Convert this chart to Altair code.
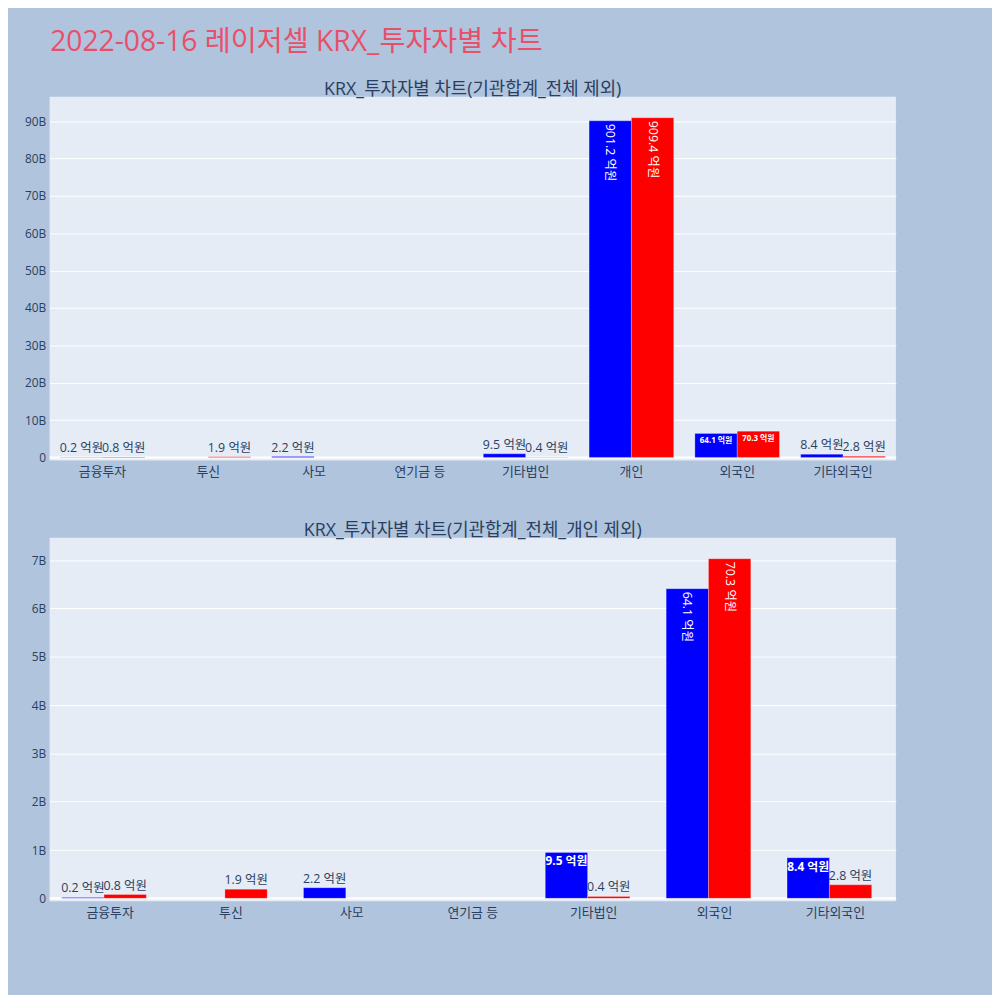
import numpy as np
import pandas as pd
import altair as alt

# 투자자별 거래대금 (억원)
categories = ["금융투자", "투신", "사모", "연기금 등", "기타법인", "개인", "외국인", "기타외국인"]
blue_vals = [0.2, 0.0, 2.2, 0.0, 9.5, 901.2, 64.1, 8.4]   # 매도
red_vals = [0.8, 1.9, 0.0, 0.0, 0.4, 909.4, 70.3, 2.8]    # 매수
series = ["매도", "매수"]

FONT = "Open Sans, Noto Sans CJK KR, sans-serif"
TXT = "#2a3f5f"
PLOT_BG = "#e5ecf6"


def make_df(cats):
    rows = []
    for c in cats:
        i = categories.index(c)
        for s, v in zip(series, [blue_vals[i], red_vals[i]]):
            rows.append({"투자자": c, "구분": s, "억원": v, "금액": v * 1e8,
                         "라벨": f"{v:.1f} 억원" if v > 0 else ""})
    df = pd.DataFrame(rows)
    top = df["억원"].max()
    ratio = df["억원"] / top
    df["mode"] = np.where(ratio > 0.5, "rot", np.where(ratio > 0.05, "in", "out"))
    return df


def panel(cats, title, step, in_size):
    df = make_df(cats)
    vmax = df["금액"].max()
    lo, hi = -vmax * 0.0088, vmax * 1.062
    ticks = list(np.arange(0, hi, step))
    yscale = alt.Scale(domain=[lo, hi], nice=False, zero=False)
    base = alt.Chart(df).encode(
        x=alt.X("투자자:N", sort=cats, title=None,
                scale=alt.Scale(paddingInner=0.2, paddingOuter=0.1),
                axis=alt.Axis(labelAngle=0, domain=False, ticks=False, labelPadding=5,
                              labelColor=TXT, labelFontSize=13, grid=False)),
        xOffset=alt.XOffset("구분:N", sort=series,
                            scale=alt.Scale(paddingInner=0, paddingOuter=0)),
        y=alt.Y("금액:Q", title=None, scale=yscale,
                axis=alt.Axis(values=ticks, domain=False, ticks=False, labelPadding=4,
                              labelColor=TXT, labelFontSize=12, gridColor="white",
                              labelExpr="datum.value == 0 ? '0' : format(datum.value / 1e9, 'd') + 'B'")),
    )
    bars = base.mark_bar(stroke="white", strokeWidth=0.5, strokeOpacity=0.5).encode(
        y2=alt.datum(0),
        color=alt.Color("구분:N", scale=alt.Scale(domain=series, range=["#0000ff", "#ff0000"]),
                        legend=None),
    )
    zero = alt.Chart(pd.DataFrame({"z": [0]})).mark_rule(color="white", strokeWidth=2).encode(
        y=alt.Y("z:Q", scale=yscale)
    )
    out = base.transform_filter(alt.datum.mode == "out").mark_text(
        baseline="bottom", dy=-2, fontSize=12.5, color=TXT, font=FONT
    ).encode(text="라벨:N")
    rot = base.transform_filter(alt.datum.mode == "rot").mark_text(
        angle=90, align="left", baseline="middle", dx=3, fontSize=12.5, color="white", font=FONT
    ).encode(text="라벨:N")
    inside = base.transform_filter(alt.datum.mode == "in").mark_text(
        baseline="top", dy=4, fontSize=in_size, fontWeight="bold", color="white", font=FONT
    ).encode(text="라벨:N")
    return alt.layer(zero, bars, out, rot, inside).properties(
        width=854, height=367,
        view=alt.ViewBackground(fill=PLOT_BG, stroke=None),
        title=alt.TitleParams(title, fontSize=18, color=TXT, fontWeight="normal",
                              anchor="middle", offset=-2, font=FONT),
    )


top = panel(categories, "KRX_투자자별 차트(기관합계_전체 제외)", 10e9, 8)
bottom = panel([c for c in categories if c != "개인"],
               "KRX_투자자별 차트(기관합계_전체_개인 제외)", 1e9, 12)

chart = alt.vconcat(top, bottom, spacing=44).properties(
    title=alt.TitleParams("2022-08-16 레이저셀 KRX_투자자별 차트", anchor="start",
                          fontSize=28.5, color="#e8506a", fontWeight="normal",
                          offset=25, font=FONT, dx=26),
    background="#b0c4de",
    padding={"left": 16, "top": 15, "right": 96, "bottom": 72},
).configure_view(fill=PLOT_BG, stroke=None).configure(font=FONT)

chart.save("out.html", embed_options={"renderer": "svg", "actions": False})
